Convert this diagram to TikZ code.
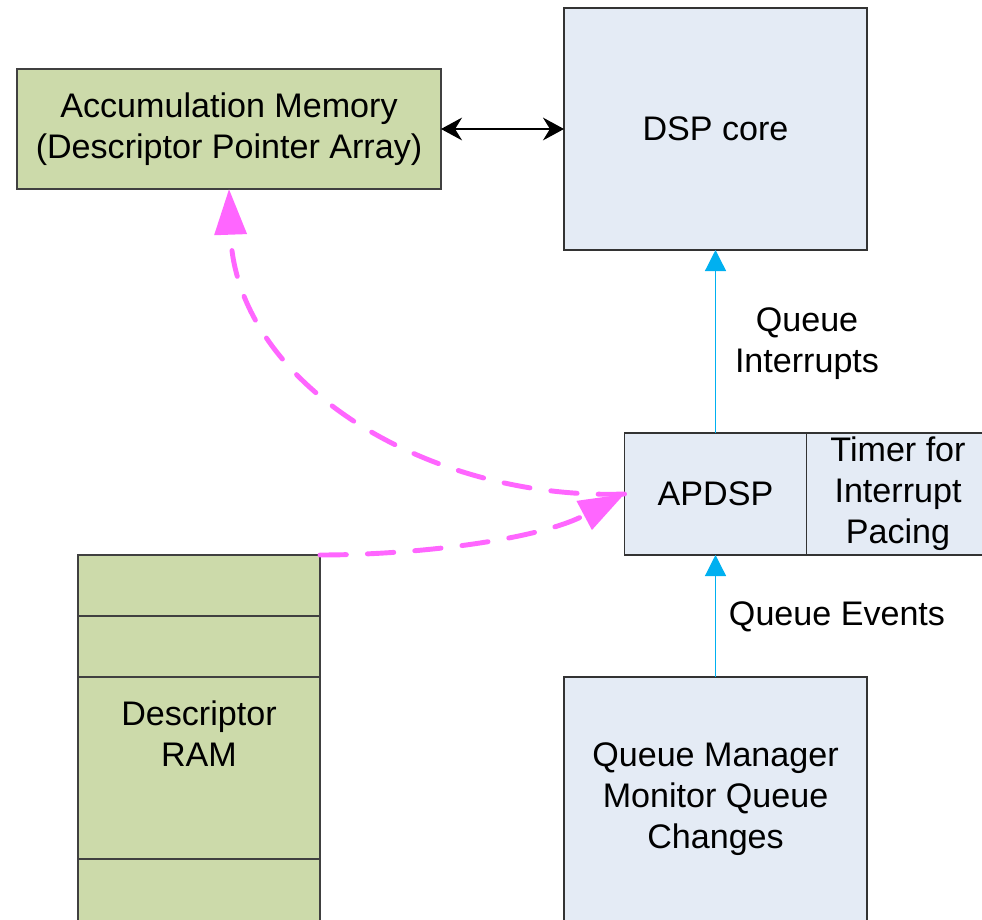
\documentclass[tikz,border=0pt]{standalone}
\usepackage{fontspec}
\setmainfont{Liberation Sans}
\usetikzlibrary{arrows.meta, positioning}
\definecolor{memgreen}{HTML}{CCDAAA}
\definecolor{coreblue}{HTML}{E4EBF5}
\definecolor{qmagenta}{HTML}{FF66FF}
\definecolor{qcyan}{HTML}{00B0F0}

\begin{document}
\begin{tikzpicture}[
    block/.style={rectangle, draw=#1, line width=0.9pt, outer sep=0pt, align=center,
                  font=\fontsize{19.4pt}{23.3pt}\selectfont},
    greenbox/.style={block=black!75, fill=memgreen},
    bluebox/.style={block=black!80, fill=coreblue},
    lbl/.style={align=center, font=\fontsize{19.4pt}{23.3pt}\selectfont},
    event/.style={-{Triangle[length=12pt, width=12pt]}, line width=0.7pt, qcyan},
    link/.style={{Stealth[length=12pt, width=13pt, inset=4pt]}-{Stealth[length=12pt, width=13pt, inset=4pt]}, line width=0.7pt, black},
    fetch/.style={-{Triangle[length=26pt, width=18pt]}, line width=2.8pt, qmagenta,
                  dash pattern=on 15pt off 12pt, line cap=round}
  ]
    \useasboundingbox (0,0) rectangle (19.64,18.38);
    \node[greenbox, minimum width=8.48cm, minimum height=2.4cm] (acc) at (4.58,15.8) {Accumulation Memory\\(Descriptor Pointer Array)};
    \node[bluebox, minimum width=6.06cm, minimum height=4.84cm] (dsp) at (14.31,15.8) {DSP core};
    \node[bluebox, minimum width=3.64cm, minimum height=2.44cm] (apdsp) at (14.31,8.5) {APDSP};
    \node[bluebox, minimum width=3.66cm, minimum height=2.44cm, inner ysep=0pt, anchor=west] (timer) at (apdsp.east) {Timer for\\Interrupt\\Pacing};
    \node[bluebox, minimum width=6.06cm, minimum height=4.96cm, text depth=0.2cm] (qm) at (14.31,2.36) {Queue Manager\\Monitor Queue\\Changes};
    \node[greenbox, minimum width=4.84cm, minimum height=7.4cm, text depth=0.25cm] (ram) at (3.98,3.58) {Descriptor\\RAM};
    % slots of the descriptor RAM
    \foreach \y in {6.06,4.84,1.2}
      \draw[black!75, line width=0.7pt] (ram.west |- 0,\y) -- (ram.east |- 0,\y);
    \node[lbl] (intlbl) at (16.14,11.5) {Queue\\Interrupts};
    \node[lbl] (evlbl) at (16.74,6.05) {Queue Events};
    \draw[link] (acc) -- (dsp);
    \draw[event] (apdsp) -- (dsp);
    \draw[event] (qm) -- (apdsp);
    \draw[fetch] (apdsp.west) to[out=182, in=-88, looseness=1] (acc.south);
    \draw[fetch] (ram.north east) to[out=0, in=-152, looseness=0.8] (apdsp.west);
  \end{tikzpicture}
\end{document}
